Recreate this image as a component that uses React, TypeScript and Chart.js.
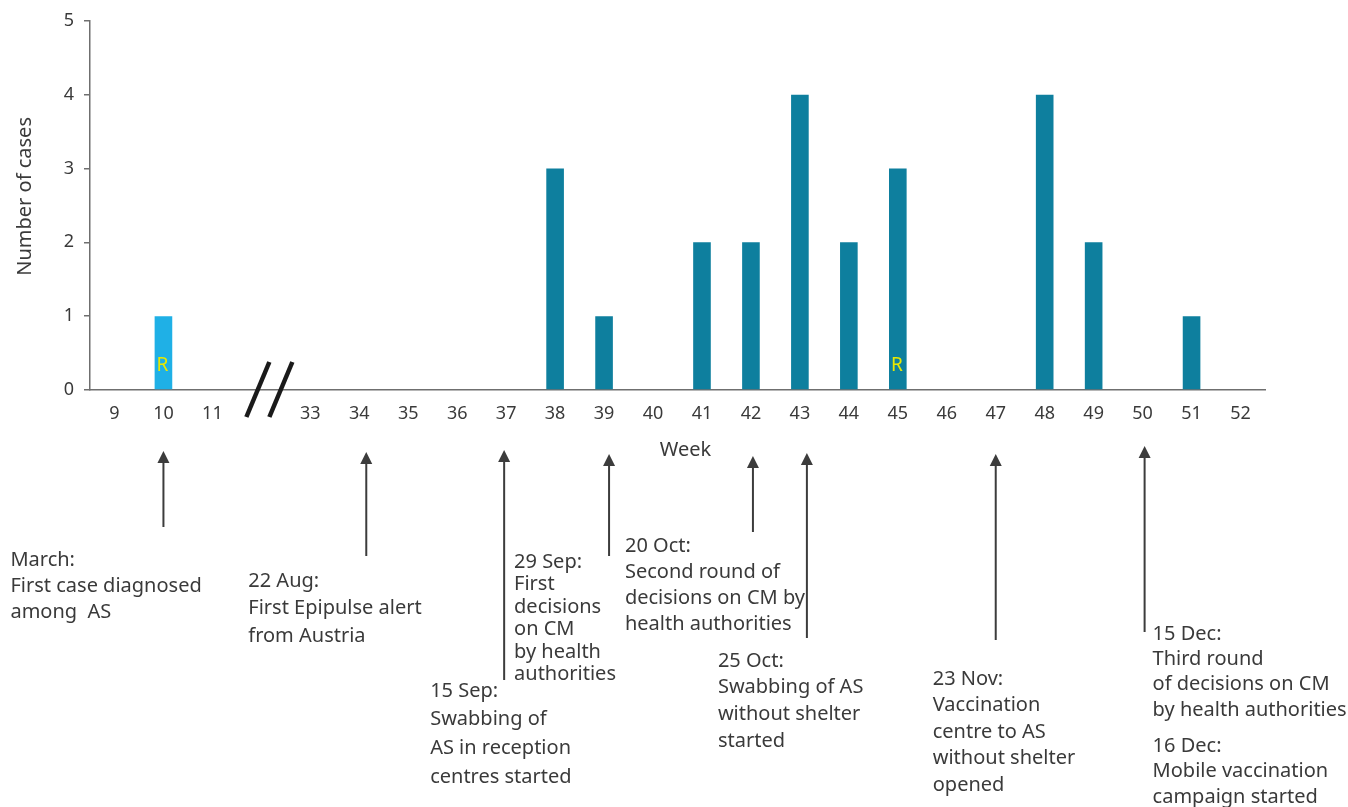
import React, { useEffect, useRef } from "react";
import { Chart, registerables } from "chart.js";

Chart.register(...registerables);

// ---------- data ----------
const weekLabels = ["9", "10", "11", "", "33", "34", "35", "36", "37", "38", "39", "40", "41", "42", "43", "44", "45", "46", "47", "48", "49", "50", "51", "52"];
const caseCounts = [0, 1, 0, null, 0, 0, 0, 0, 0, 3, 1, 0, 2, 2, 4, 2, 3, 0, 0, 4, 2, 0, 1, 0];
const highlightWeeks = ["10"];
const rWeeks = ["10", "45"];
const breakAfterWeek = "11";
const xTitle = "Week";
const yTitle = "Number of cases";

const eventWeeks = ["10", "34", "37", "39", "42", "43", "47", "50", "50"];
const eventTexts = [
  ["March:", "First case diagnosed", "among  AS"],
  ["22 Aug:", "First Epipulse alert", "from Austria"],
  ["15 Sep:", "Swabbing of", "AS in reception", "centres started"],
  ["29 Sep:", "First", "decisions", "on CM", "by health", "authorities"],
  ["20 Oct:", "Second round of", "decisions on CM by", "health authorities"],
  ["25 Oct:", "Swabbing of AS", "without shelter", "started"],
  ["23 Nov:", "Vaccination", "centre to AS", "without shelter", "opened"],
  ["15 Dec:", "Third round", "of decisions on CM", "by health authorities"],
  ["16 Dec:", "Mobile vaccination", "campaign started"],
];

// ---------- layout / style ----------
const FONT = "'Noto Sans', sans-serif";
const TEXT_COLOR = "#3a3a3a";
const AXIS_COLOR = "#6f6f6f";
const BAR_COLOR = "#0e7f9e";
const BAR_HIGHLIGHT = "#1fb0e6";
const R_COLOR = "#e8e800";

const eventLayout = [
  { arrowDx: 0, tipY: 451, tailY: 527, textDx: -153, textY: 560, lineH: 26, arrow: true },
  { arrowDx: 7, tipY: 452, tailY: 556, textDx: -118, textY: 581, lineH: 27.5, arrow: true },
  { arrowDx: -2, tipY: 450, tailY: 680, textDx: -74, textY: 691, lineH: 28.7, arrow: true },
  { arrowDx: 5, tipY: 454, tailY: 556, textDx: -95, textY: 562, lineH: 22.5, arrow: true },
  { arrowDx: 2, tipY: 456, tailY: 532, textDx: -128, textY: 546, lineH: 26, arrow: true },
  { arrowDx: 7, tipY: 453, tailY: 638, textDx: -89, textY: 661, lineH: 26.7, arrow: true },
  { arrowDx: 0, tipY: 454, tailY: 640, textDx: -63, textY: 679, lineH: 26.5, arrow: true },
  { arrowDx: 2, tipY: 446, tailY: 632, textDx: 8, textY: 634, lineH: 25.3, arrow: true },
  { arrowDx: 2, tipY: 0, tailY: 0, textDx: 8, textY: 746, lineH: 25.5, arrow: false },
];

const overlayPlugin = {
  id: "overlay",
  afterDatasetsDraw(chart: any) {
    const ctx = chart.ctx;
    const meta = chart.getDatasetMeta(0);
    const y = chart.scales.y;
    ctx.save();
    ctx.fillStyle = R_COLOR;
    ctx.font = `19px ${FONT}`;
    ctx.textAlign = "center";
    ctx.textBaseline = "middle";
    rWeeks.forEach((w) => {
      const i = weekLabels.indexOf(w);
      const bar = meta.data[i];
      if (bar) ctx.fillText("R", bar.x - 1, y.getPixelForValue(0.33));
    });
    ctx.restore();
  },
  afterDraw(chart: any) {
    const ctx = chart.ctx;
    const x = chart.scales.x;
    const area = chart.chartArea;
    ctx.save();
    // axis titles
    ctx.fillStyle = TEXT_COLOR;
    ctx.font = `20px ${FONT}`;
    ctx.textAlign = "center";
    ctx.textBaseline = "middle";
    ctx.fillText(xTitle, (area.left + area.right) / 2 + 8, area.bottom + 60);
    ctx.save();
    ctx.translate(25, (area.top + area.bottom) / 2 - 9);
    ctx.rotate(-Math.PI / 2);
    ctx.fillText(yTitle, 0, 0);
    ctx.restore();

    // axis break marks
    const bi = weekLabels.indexOf(breakAfterWeek) + 1;
    const bx = x.getPixelForValue(bi) + 8;
    const by = area.bottom;
    ctx.strokeStyle = "#1a1a1a";
    ctx.lineWidth = 4.5;
    [-11.5, 11.5].forEach((off) => {
      ctx.beginPath();
      ctx.moveTo(bx + off - 11.5, by + 27);
      ctx.lineTo(bx + off + 11.5, by - 28);
      ctx.stroke();
    });

    // event arrows and texts
    ctx.font = `20px ${FONT}`;
    ctx.textAlign = "left";
    ctx.textBaseline = "middle";
    eventWeeks.forEach((w, k) => {
      const L = eventLayout[k];
      const ax = x.getPixelForValue(weekLabels.indexOf(w)) + L.arrowDx;
      if (L.arrow) {
        ctx.strokeStyle = "#3c3c3c";
        ctx.fillStyle = "#3c3c3c";
        ctx.lineWidth = 2;
        ctx.beginPath();
        ctx.moveTo(ax, L.tailY);
        ctx.lineTo(ax, L.tipY + 10);
        ctx.stroke();
        ctx.beginPath();
        ctx.moveTo(ax, L.tipY);
        ctx.lineTo(ax - 6, L.tipY + 12);
        ctx.lineTo(ax + 6, L.tipY + 12);
        ctx.closePath();
        ctx.fill();
      }
      ctx.fillStyle = TEXT_COLOR;
      eventTexts[k].forEach((line, j) => {
        ctx.fillText(line, ax + L.textDx, L.textY + j * L.lineH);
      });
    });
    ctx.restore();
  },
};

export default function App() {
  const ref = useRef<HTMLCanvasElement | null>(null);

  useEffect(() => {
    if (!ref.current) return;
    const chart = new Chart(ref.current, {
      type: "bar",
      data: {
        labels: weekLabels,
        datasets: [
          {
            data: caseCounts as any,
            backgroundColor: weekLabels.map((w) => (highlightWeeks.includes(w) ? BAR_HIGHLIGHT : BAR_COLOR)),
            barPercentage: 0.9,
            categoryPercentage: 0.4,
          },
        ],
      },
      options: {
        responsive: false,
        animation: false,
        layout: { padding: { left: 0, top: 20, right: 83, bottom: 347 } },
        plugins: {
          legend: { display: false },
          tooltip: { enabled: false },
        },
        scales: {
          x: {
            afterFit: (s: any) => {
              s.height = 70;
            },
            grid: { display: false, drawTicks: false },
            border: { display: true, color: AXIS_COLOR, width: 1.5 },
            ticks: {
              autoSkip: false,
              maxRotation: 0,
              padding: 13,
              color: TEXT_COLOR,
              font: { family: FONT, size: 18 },
            },
          },
          y: {
            min: 0,
            max: 5,
            afterFit: (s: any) => {
              s.width = 90;
            },
            grid: { drawOnChartArea: false, drawTicks: true, tickLength: 6, color: AXIS_COLOR, lineWidth: 1.5 },
            border: { display: true, color: AXIS_COLOR, width: 1.5 },
            ticks: {
              stepSize: 1,
              padding: 10,
              color: TEXT_COLOR,
              font: { family: FONT, size: 18 },
            },
          },
        },
      },
      plugins: [overlayPlugin],
    });
    return () => chart.destroy();
  }, []);

  return (
    <div style={{ position: "absolute", left: 0, top: 0, width: 1348, height: 807, background: "#fff" }}>
      <canvas ref={ref} width={1348} height={807} style={{ display: "block" }} />
    </div>
  );
}
